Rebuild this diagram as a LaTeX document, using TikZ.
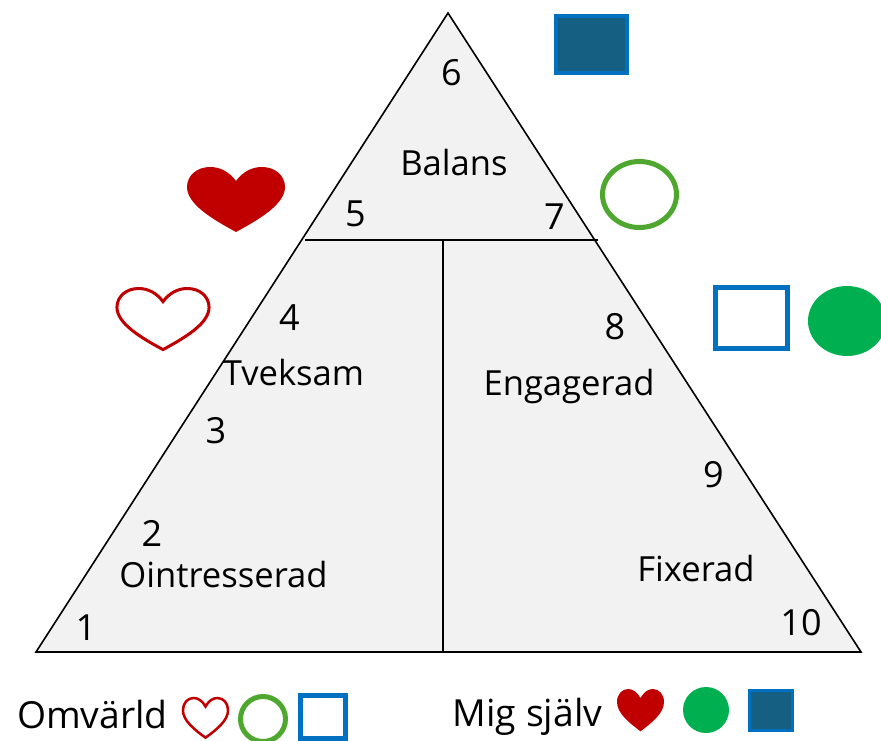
\documentclass[tikz,border=0pt]{standalone}
\usepackage{fontspec}
\usetikzlibrary{shapes.geometric}
\setmainfont{Open Sans}
\definecolor{tri}{HTML}{F2F2F2}
\definecolor{hred}{HTML}{C00000}
\definecolor{ringg}{HTML}{4EA72E}
\definecolor{fillg}{HTML}{00B050}
\definecolor{sqb}{HTML}{0070C0}
\definecolor{sqd}{HTML}{156082}
\newcommand{\myheart}[5]{% cx, top, xscale, yscale, style
  \path[#5,shift={(#1,#2)},xscale=#3,yscale=#4] (0,14)
    .. controls (-7,4.5) and (-16,0) .. (-26,0)
    .. controls (-39,0) and (-49,8.5) .. (-49,20)
    .. controls (-49,37) and (-24,52) .. (0,65)
    .. controls (24,52) and (49,37) .. (49,20)
    .. controls (49,8.5) and (39,0) .. (26,0)
    .. controls (16,0) and (7,4.5) .. (0,14) -- cycle;}
\tikzset{
  x=1pt,y=-1pt,
  lab/.style={anchor=base,inner sep=0pt,font=\fontsize{34.6}{35}\selectfont,text=black},
  leg/.style={lab,font=\fontsize{37.3}{37}\selectfont},
  num/.style={lab,font=\fontsize{36}{36}\selectfont},
  edge/.style={draw=black,line width=1.6pt},
  heartfill/.style={fill=hred},
  heartline/.style={draw=hred,fill=white,line join=miter},
  ring/.style={ellipse,draw=ringg,fill=white,inner sep=0pt},
  dot/.style={ellipse,fill=fillg,inner sep=0pt},
  sq/.style={rectangle,draw=sqb,inner sep=0pt},
}
\begin{document}
\begin{tikzpicture}
\useasboundingbox (0,0) rectangle (881,741);
\clip (0,0) rectangle (881,741);
\coordinate (A) at (36,652);
\coordinate (B) at (861,652);
\coordinate (C) at (448,13);
\coordinate (hl) at (305,240);
\coordinate (hr) at (598,240);
\coordinate (vt) at (443,240);
\coordinate (vb) at (443,652);
\path[fill=tri,edge,line join=miter] (A) -- (C) -- (B) -- cycle;
\draw[edge] (hl) -- (hr);
\draw[edge] (vt) -- (vb);
% numbers
\node[num] (n6) at (451.5,85.5) {6};
\node[num] (n5) at (355.5,226.5) {5};
\node[num] (n7) at (554.5,229.5) {7};
\node[num] (n4) at (289.5,330.5) {4};
\node[num] (n3) at (216,443.5) {3};
\node[num] (n8) at (615,339) {8};
\node[num] (n9) at (713.5,487) {9};
\node[num] (n2) at (152,546.5) {2};
\node[num] (n1) at (86,640) {1};
\node[num] (n10) at (801,635) {10};
% labels
\node[lab] (balans) at (454,175.5) {Balans};
\node[lab] (tveksam) at (293.5,385.5) {Tveksam};
\node[lab] (engagerad) at (569,395.5) {Engagerad};
\node[lab] (ointresserad) at (223.5,587) {Ointresserad};
\node[lab] (fixerad) at (696,581) {Fixerad};
\node[leg] (omvarld) at (92.5,728) {Omvärld};
\node[leg] (migsjalv) at (527.5,726) {Mig själv};
% hearts
\myheart{236}{167}{1}{1}{heartfill}
\myheart{163}{288.5}{0.94}{0.94}{heartline,line width=3pt}
\myheart{205.5}{698}{0.46}{0.61}{heartline,line width=2.5pt}
\myheart{640.5}{689}{0.48}{0.65}{heartfill}
% squares and circles
\node[sq,fill=sqd,line width=4pt,minimum width=71pt,minimum height=57pt] (s1) at (591,45) {};
\node[sq,fill=white,line width=5pt,minimum width=72pt,minimum height=61pt] (s2) at (751,318) {};
\node[sq,fill=white,line width=5pt,minimum width=45pt,minimum height=43pt] (s3) at (323,717) {};
\node[sq,fill=sqd,line width=3pt,minimum width=43pt,minimum height=40pt] (s4) at (771,710.5) {};
\node[ring,line width=5pt,minimum width=74pt,minimum height=66pt] (r1) at (639.5,194.5) {};
\node[ring,line width=5pt,minimum width=45pt,minimum height=45pt] (r2) at (263,719) {};
\node[dot,minimum width=78pt,minimum height=70pt] (g1) at (847,321) {};
\node[dot,minimum width=46pt,minimum height=46pt] (g2) at (706,710) {};
\end{tikzpicture}
\end{document}
